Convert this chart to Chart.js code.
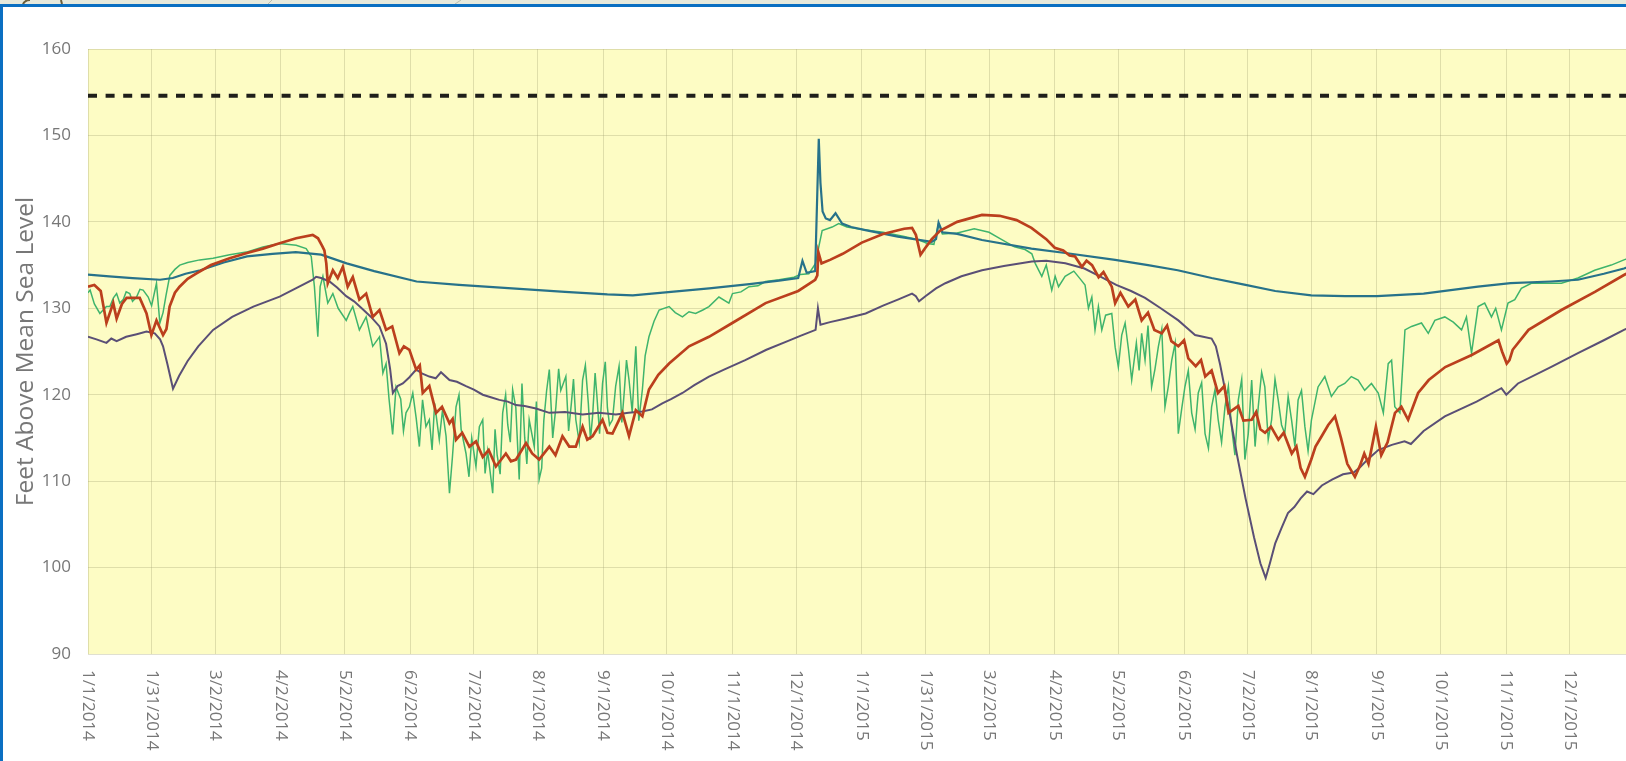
<!DOCTYPE html>
<html>
<head>
<meta charset="utf-8">
<script src="https://cdn.jsdelivr.net/npm/chart.js@4"></script>
<style>
  html, body { margin: 0; padding: 0; overflow: hidden; background: #ffffff; }
  #wrap { position: relative; width: 1626px; height: 761px; overflow: hidden; background: #ffffff; }
  #c { position: absolute; left: 0; top: 0; }
</style>
</head>
<body>
<div id="wrap"><canvas id="c" width="1660" height="761" style="width:1660px;height:761px"></canvas></div>
<script>
// Day numbers are counted from 1/1/2014 (day 0).
const tickDays = [0, 30, 60, 91, 121, 152, 182, 212, 243, 273, 304, 334,
                  365, 395, 425, 456, 486, 517, 547, 577, 608, 638, 669, 699, 729];
const tickLabels = ['1/1/2014', '1/31/2014', '3/2/2014', '4/2/2014', '5/2/2014', '6/2/2014',
                    '7/2/2014', '8/1/2014', '9/1/2014', '10/1/2014', '11/1/2014', '12/1/2014',
                    '1/1/2015', '1/31/2015', '3/2/2015', '4/2/2015', '5/2/2015', '6/2/2015',
                    '7/2/2015', '8/1/2015', '9/1/2015', '10/1/2015', '11/1/2015', '12/1/2015', '12/31/2015'];

// Reference elevation (dashed)
const limitDays = [0, 729];
const limitLevels = [154.6, 154.6];

// Water levels, feet above mean sea level: [day, level]
const tealSeries = [
  [0,133.9],[10,133.7],[21,133.5],[34,133.3],[40,133.5],[46,134.0],[53,134.4],[64,135.3],[75,136.0],
  [87,136.3],[98,136.5],[110,136.2],[122,135.2],[135,134.3],[155,133.1],[175,132.7],[200,132.3],
  [225,131.9],[245,131.6],[257,131.5],[275,131.9],[293,132.3],[312,132.8],[326,133.2],[335,133.5],
  [337,135.5],[339,134.1],[343,134.3],[344.7,149.6],[345.5,144.5],[346.5,141.2],[348,140.4],[350,140.2],
  [352.6,141.0],[355.7,139.8],[360,139.4],[366.7,139.05],[382,138.3],[398,137.7],[400,138.0],[401.2,139.9],
  [403,138.8],[410,138.6],[421.7,137.9],[445,136.9],[461,136.4],[484.5,135.6],[500,135.0],[514,134.4],
  [530,133.5],[546,132.7],[560,132.0],[577,131.5],[593,131.4],[608,131.4],[630,131.7],[655.6,132.5],
  [671,132.9],[690,133.1],[702.8,133.3],[715,134.0],[724.5,134.6],[729,135.0]
];

const redSeries = [
  [0,132.5],[3,132.7],[6,132.0],[8.7,128.3],[11.9,130.6],[13.5,128.8],[16,130.5],[18.2,131.2],[24.4,131.2],
  [27.6,129.4],[29.9,126.9],[32.3,128.6],[35.4,126.9],[37,127.6],[38.5,130.2],[41,131.8],[43.2,132.5],
  [47,133.4],[51,134.0],[58,135.0],[66.8,135.8],[75,136.4],[82.5,136.9],[90,137.5],[98.2,138.1],[106,138.5],
  [108.5,138.1],[110.5,137.2],[111.5,136.7],[112.4,135.2],[113.1,132.9],[115.5,134.4],[117.8,133.5],
  [120.2,134.8],[122.5,132.5],[124.9,133.6],[128,131.0],[131.2,131.7],[134.3,129.0],[137.5,129.8],
  [140.6,127.5],[143.5,127.9],[146.9,124.8],[149,125.6],[151.6,125.2],[154.8,122.9],[156.5,123.4],
  [157.9,120.2],[161,121.0],[164.2,117.9],[167,118.6],[170.5,116.7],[172,117.2],[173.6,114.8],[176.5,115.6],
  [179.9,114.0],[183,114.6],[186.2,112.8],[189,113.6],[192.4,111.7],[197.1,113.2],[199.5,112.3],[201.9,112.5],
  [206.6,114.4],[209.5,113.2],[212.8,112.5],[217.6,114.0],[220.5,113.0],[223.8,115.2],[227,114.0],[230.1,114.0],
  [233.3,116.3],[235.5,114.8],[238,115.2],[242.7,117.1],[245,115.6],[247.4,115.5],[252.1,117.9],[255.2,115.2],
  [258.4,118.2],[261.5,117.5],[264.6,120.6],[269,122.3],[274.1,123.6],[283.5,125.6],[292.9,126.7],[303.9,128.3],
  [319.6,130.6],[335,132.0],[343,133.3],[344,133.8],[344.5,136.5],[346,135.2],[350,135.6],[356,136.3],
  [365,137.6],[375,138.6],[385,139.2],[388.7,139.3],[390.5,138.5],[392.7,136.2],[395,137.0],[398,138.0],
  [402,139.0],[410,140.0],[421.7,140.8],[430,140.7],[438,140.2],[445,139.3],[452,138.0],[456,137.0],
  [460,136.7],[463,136.1],[465.6,136.0],[468.8,134.8],[471,135.5],[473.6,135.0],[476.7,133.6],[479,134.2],
  [482.9,132.5],[484.5,130.6],[487,131.8],[490.7,130.2],[494,131.0],[497,128.6],[500,129.5],[503,127.5],
  [506.5,127.1],[509,128.0],[511,126.2],[514.3,125.6],[517,126.3],[519,124.2],[522.5,123.3],[525,124.0],
  [527,122.1],[530,122.8],[533,120.2],[536,121.0],[538,117.9],[542.6,118.7],[545,117.0],[548.9,117.1],
  [551,118.0],[553,116.0],[555.2,115.6],[558,116.3],[561.5,114.8],[564,115.6],[567.8,113.2],[570,114.0],
  [572,111.5],[574,110.5],[577,112.5],[579,114.0],[581.9,115.2],[585,116.5],[588.2,117.5],[591,115.0],
  [594,112.0],[597.6,110.5],[600,111.8],[602,113.2],[604,112.0],[607.5,116.3],[610,113.0],[613,114.5],
  [616.5,117.9],[619.5,118.6],[622.7,117.1],[627.4,120.2],[632.4,121.7],[640.2,123.2],[652.7,124.6],
  [665.3,126.3],[667,125.0],[669.2,123.6],[670.5,124.0],[672,125.2],[679.5,127.5],[695,129.8],[710.8,131.9],
  [724.5,133.85],[729,134.4]
];

const purpleSeries = [
  [0,126.7],[4,126.4],[8.7,126.0],[11,126.5],[13.5,126.2],[18,126.7],[23,127.0],[27.6,127.3],[31.5,127.1],
  [34,126.4],[35.4,125.6],[37.5,123.5],[40.1,120.7],[43,122.2],[47,123.9],[52,125.6],[59,127.5],[68,129.0],
  [78,130.2],[90.4,131.35],[98,132.3],[106,133.3],[107.6,133.65],[110,133.5],[113.9,133.1],[117.5,132.4],
  [121.8,131.4],[125.5,130.8],[129.6,129.9],[133.5,129.0],[137.5,127.9],[140.6,125.9],[142.5,123.0],
  [143.8,120.2],[146,121.0],[148.5,121.3],[151.5,122.0],[154.8,122.9],[158,122.4],[161,122.1],[164,121.9],
  [166.5,122.6],[170.5,121.7],[174,121.5],[178.3,121.0],[182,120.6],[186.2,120.0],[190,119.7],[194,119.4],
  [198,119.2],[201.9,118.8],[206,118.7],[211.3,118.4],[217.6,117.9],[225,118.0],[233.3,117.7],[241,117.9],
  [249,117.7],[255,117.9],[261.5,118.05],[266,118.3],[270.9,119.0],[275,119.5],[280.4,120.2],[286,121.1],
  [292.9,122.1],[300,122.9],[310,124.0],[320,125.2],[330,126.2],[336,126.8],[343.2,127.5],[344.3,130.0],
  [345.5,128.1],[350,128.4],[357,128.8],[366.8,129.4],[375,130.3],[382,131.0],[388.7,131.7],[390.5,131.4],
  [392,130.8],[395,131.4],[400,132.3],[404.4,132.9],[412,133.7],[421.7,134.4],[432,134.9],[445.2,135.4],
  [452,135.5],[461,135.2],[470,134.6],[478,133.6],[485,132.7],[492,132.0],[498.6,131.2],[506,130.0],
  [514.3,128.6],[518,127.8],[522.2,126.9],[526,126.7],[530,126.5],[532,125.6],[534,123.5],[538,118.5],
  [542,113.0],[546,108.0],[550,103.5],[553,100.5],[555.5,98.8],[557.5,100.5],[560,102.8],[563,104.6],
  [566,106.3],[569,107.0],[572,108.0],[575,108.8],[578,108.5],[582,109.5],[587,110.2],[592,110.8],
  [597,111.0],[600,111.6],[604,112.6],[608.6,113.6],[615,114.2],[621,114.6],[624,114.3],[630,115.8],
  [640,117.5],[655,119.2],[666.7,120.75],[669,120.0],[674.5,121.3],[690,123.2],[702.8,124.8],[715,126.3],
  [724.5,127.5],[729,128.0]
];

const greenSeries = [
  [0,131.8],[1,132.1],[3,130.5],[5.6,129.4],[8.7,130.2],[10.3,130.2],[12,131.2],[13.5,131.7],[15,130.6],
  [16.6,131.0],[18,131.9],[19.7,131.7],[21,130.8],[22.9,131.3],[24.5,132.2],[26,132.1],[28.4,131.3],
  [30,130.3],[32.3,132.9],[33.9,128.3],[35.4,129.5],[36.8,131.5],[38.6,133.8],[41,134.5],[43.3,135.0],
  [47,135.3],[52.7,135.6],[59,135.8],[66.8,136.2],[74.7,136.5],[82.5,137.1],[90.4,137.5],[98.2,137.3],
  [102.9,136.9],[105.3,136.0],[106.8,132.5],[108.4,126.7],[109.5,132.5],[110.8,133.7],[113.1,130.6],
  [115.5,131.7],[118,130.0],[121.8,128.6],[123.4,129.5],[124.9,130.2],[128,127.5],[131.2,129.0],
  [134.3,125.6],[137.5,126.7],[139.1,122.5],[140.6,123.6],[142,119.5],[143.7,115.4],[145.3,120.9],
  [147.5,119.5],[148.8,115.8],[150,117.9],[151.6,118.6],[153.2,120.2],[154.8,117.3],[156.3,114.0],
  [157.8,119.4],[159.4,116.3],[161,117.1],[162.3,113.6],[163.5,119.0],[165.7,114.8],[167.2,118.2],
  [168.9,115.2],[170.5,108.6],[171.9,112.8],[173.6,118.6],[175,120.0],[176,116.0],[178.3,113.2],
  [179.7,110.5],[181,115.0],[183,111.7],[184.6,116.3],[186.2,117.1],[187.3,110.9],[188.5,113.5],
  [190.9,108.6],[192,116.0],[193,113.0],[194.4,110.8],[195.6,117.9],[197,120.0],[198,116.5],[199.2,114.5],
  [200.3,120.6],[201.8,118.5],[203.4,110.2],[204.7,121.3],[206,115.0],[207,112.0],[208.1,117.1],
  [210.5,114.0],[211.5,119.2],[212.8,110.2],[214,111.5],[215,117.0],[216.3,120.4],[217.6,122.9],
  [219.2,115.0],[220.7,118.6],[222,123.0],[223,120.5],[225.4,122.1],[226.7,115.8],[228,119.0],[229,121.8],
  [230.1,117.1],[231.7,114.5],[233.3,121.7],[234.6,123.4],[236,119.0],[237,114.8],[238,117.5],[239.2,122.5],
  [240,120.0],[241.3,115.5],[242.7,121.3],[244,123.8],[245,118.5],[246,116.5],[247.4,117.1],[248.9,121.0],
  [250.5,123.3],[251.8,116.8],[253,120.5],[254,124.0],[255.2,121.7],[256.7,118.0],[258.4,125.6],
  [259.8,117.0],[261.5,120.6],[262.8,124.5],[264.6,126.7],[267,128.5],[269.4,129.8],[274.1,130.2],
  [277,129.5],[280.4,129.0],[283.5,129.6],[286.6,129.4],[290,129.8],[292.9,130.2],[297.6,131.3],
  [302.3,130.6],[304,131.7],[308,131.9],[311.8,132.5],[316,132.6],[319.6,133.1],[326,133.3],[333,133.6],
  [336,133.9],[340,134.0],[343.2,135.2],[344.7,137.1],[346.3,139.0],[351,139.4],[354.1,139.8],[358,139.4],
  [366,139.1],[375,138.8],[385,138.3],[392,137.9],[396,137.5],[399,137.4],[401.2,139.8],[403,138.6],
  [410,138.7],[418,139.2],[425,138.8],[430,138.1],[437,137.1],[442,136.8],[445.2,136.3],[446.8,135.2],
  [449.9,133.7],[452,135.0],[454.6,132.1],[456.2,133.7],[457.8,132.5],[460.9,133.7],[465,134.3],[468,133.4],
  [470.3,132.7],[471.9,130.0],[473.5,131.3],[475,127.5],[476.6,130.2],[478.2,127.5],[480,129.2],[482.9,129.4],
  [484.5,125.5],[486,123.2],[487.6,126.9],[489.2,128.3],[490.8,125.2],[492.3,121.7],[494.5,126.0],
  [495.8,122.8],[497,127.1],[498.6,124.0],[500,128.0],[501.7,120.9],[503.3,123.0],[504.9,125.6],
  [506.5,127.6],[508,118.6],[509.6,121.0],[511.2,124.0],[512.8,126.0],[514.3,115.5],[515.9,118.4],
  [517.4,120.9],[519,122.8],[520.6,117.9],[522.2,116.0],[523.7,120.2],[525.3,121.4],[526.9,115.5],
  [528.5,113.8],[530,118.6],[531.6,120.6],[533.1,117.1],[534.7,114.5],[536.3,118.6],[537.9,121.0],
  [539.4,116.3],[541,113.0],[542.6,119.4],[544.2,121.8],[545.7,112.5],[547.3,115.5],[548.9,121.7],
  [550.5,114.0],[552,118.6],[553.6,122.6],[555.1,120.9],[556.7,114.8],[558.3,117.1],[559.9,121.8],
  [561.4,119.4],[563,116.5],[564.5,115.5],[566.1,119.8],[567.7,117.1],[569.3,114.0],[570.8,119.4],
  [572.4,120.5],[574,116.3],[575.5,113.5],[577.1,117.1],[580.2,120.9],[583.4,122.1],[586.5,119.8],
  [589.7,120.9],[592.8,121.3],[595.9,122.1],[599.1,121.7],[602.2,120.5],[605.4,121.3],[608.6,120.2],
  [611,117.9],[613.3,123.6],[614.9,124.0],[616.4,118.6],[618.8,117.9],[621.2,127.5],[624.3,127.9],
  [629,128.3],[632.2,127.1],[635.3,128.6],[640,129.0],[644,128.4],[647.9,127.5],[650.2,129.0],[652.6,124.8],
  [655.7,130.2],[658.8,130.6],[662,129.0],[664,130.0],[666.7,127.5],[669.8,130.6],[673,131.0],[676.1,132.3],
  [680.8,132.9],[687.1,132.9],[695,132.9],[702.8,133.5],[710.7,134.4],[718.5,135.0],[724.5,135.6],[729,136.0]
];

const toPoints = s => s.map(([d, v]) => ({ x: d, y: v }));
const limitPoints = limitDays.map((d, i) => ({ x: d, y: limitLevels[i] }));

const GRID = 'rgba(165,165,120,0.35)';
const LABEL_GREY = '#777777';
const FONT = '"Open Sans", "DejaVu Sans", sans-serif';

// Page frame, plot fill and the rotated date labels
const framePlugin = {
  id: 'frame',
  beforeDraw(chart) {
    const { ctx, chartArea: a } = chart;
    ctx.save();
    ctx.fillStyle = '#ffffff';
    ctx.fillRect(0, 0, chart.width, chart.height);
    ctx.fillStyle = '#fdfcc4';
    ctx.fillRect(a.left, a.top, a.right - a.left, a.bottom - a.top);
    ctx.restore();
  },
  afterDraw(chart) {
    const { ctx } = chart;
    const xs = chart.scales.x;
    ctx.save();
    ctx.fillStyle = LABEL_GREY;
    ctx.font = '17px ' + FONT;
    ctx.textAlign = 'left';
    ctx.textBaseline = 'middle';
    tickDays.forEach((d, i) => {
      const px = xs.getPixelForValue(d);
      ctx.save();
      ctx.translate(px, 670);
      ctx.rotate(Math.PI / 2);
      ctx.fillText(tickLabels[i], 0, 0);
      ctx.restore();
    });
    // top strip with blue frame
    ctx.fillStyle = '#e6e9dc';
    ctx.fillRect(0, 0, chart.width, 4);
    ctx.strokeStyle = '#6b5e3a';
    ctx.lineWidth = 2;
    ctx.beginPath();
    ctx.arc(30, 8, 8, Math.PI * 1.1, Math.PI * 1.5);
    ctx.stroke();
    ctx.beginPath();
    ctx.moveTo(61, 0); ctx.lineTo(62, 4);
    ctx.stroke();
    ctx.strokeStyle = '#b8bcae';
    ctx.lineWidth = 1;
    ctx.beginPath();
    ctx.moveTo(268, 4); ctx.lineTo(272, 0);
    ctx.moveTo(455, 4); ctx.lineTo(461, 0);
    ctx.stroke();
    ctx.fillStyle = '#0a6fc2';
    ctx.fillRect(0, 4, chart.width, 3);
    ctx.fillRect(0, 4, 3, chart.height - 4);
    ctx.restore();
  }
};

new Chart(document.getElementById('c'), {
  type: 'line',
  data: {
    datasets: [
      { data: limitPoints, borderColor: '#1f1f1a', borderWidth: 4, borderDash: [9, 8.6], pointRadius: 0 },
      { data: toPoints(redSeries), borderColor: '#bb3f1d', borderWidth: 2.7, pointRadius: 0 },
      { data: toPoints(tealSeries), borderColor: '#27728a', borderWidth: 2.2, pointRadius: 0 },
      { data: toPoints(purpleSeries), borderColor: '#5a4f76', borderWidth: 2, pointRadius: 0 },
      { data: toPoints(greenSeries), borderColor: '#3fb46c', borderWidth: 1.5, pointRadius: 0 }
    ]
  },
  options: {
    responsive: false,
    animation: false,
    devicePixelRatio: 1,
    layout: { padding: { top: 49, right: 26.5, bottom: 0, left: 0 } },
    plugins: { legend: { display: false }, tooltip: { enabled: false } },
    elements: { line: { tension: 0 }, point: { radius: 0 } },
    scales: {
      x: {
        type: 'linear', min: 0, max: 729,
        afterBuildTicks: s => { s.ticks = tickDays.map(v => ({ value: v })); },
        afterFit: s => { s.height = 107; },
        ticks: { display: false },
        grid: { color: GRID, lineWidth: 1, drawTicks: false },
        border: { display: false }
      },
      y: {
        min: 90, max: 160,
        afterFit: s => { s.width = 88; },
        ticks: { stepSize: 10, color: LABEL_GREY, padding: 17, font: { family: FONT, size: 17 } },
        grid: { color: GRID, lineWidth: 1, drawTicks: false },
        border: { display: false },
        title: {
          display: true, text: 'Feet Above Mean Sea Level', color: LABEL_GREY,
          font: { family: FONT, size: 24.5 }, padding: { top: 11, bottom: 0 }
        }
      }
    }
  },
  plugins: [framePlugin]
});
</script>
</body>
</html>
